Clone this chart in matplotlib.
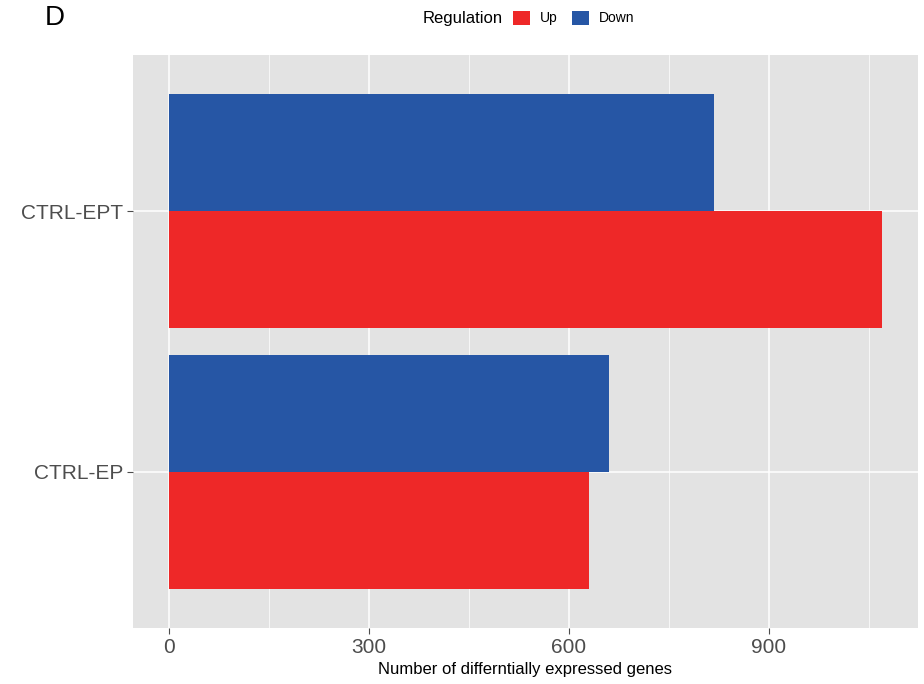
import matplotlib
matplotlib.use("Agg")
import matplotlib.pyplot as plt
import numpy as np
from matplotlib.patches import Patch

# data
comparisons = ["CTRL-EP", "CTRL-EPT"]
up_counts = [630, 1070]
down_counts = [660, 818]
x_ticks = [0, 300, 600, 900]

RED = "#EE2828"
BLUE = "#2656A5"
PANEL = "#E3E3E3"
TXT = "#4D4D4D"

plt.rcParams["font.family"] = ["Liberation Sans", "DejaVu Sans"]

W, H = 924, 684
fig = plt.figure(figsize=(W / 100, H / 100), dpi=100)
ax = fig.add_axes([133 / W, 1 - 628 / H, (918 - 133) / W, (628 - 55) / H])
ax.set_facecolor(PANEL)

y = np.arange(len(comparisons)) + 1
bw = 0.45
ax.barh(y - bw / 2, up_counts, height=bw, color=RED, zorder=3)
ax.barh(y + bw / 2, down_counts, height=bw, color=BLUE, zorder=3)

ax.set_xlim(-53.5, 1123.5)
ax.set_ylim(0.4, 2.6)
ax.set_xticks(x_ticks)
ax.set_xticks([150, 450, 750, 1050], minor=True)
ax.set_yticks(y)
ax.set_yticklabels(comparisons)
ax.grid(True, which="major", color="white", lw=1.1, zorder=0)
ax.grid(True, which="minor", axis="x", color="white", lw=0.5, zorder=0)
ax.set_axisbelow(True)
for s in ax.spines.values():
    s.set_visible(False)
ax.tick_params(axis="both", which="major", length=4, color=TXT, labelcolor=TXT,
               labelsize=15, pad=3)
ax.tick_params(axis="both", which="minor", length=0)
ax.set_xlabel("Number of differntially expressed genes", fontsize=12, labelpad=4)

fig.text(45 / W, 1 - 18 / H, "D", fontsize=20, va="center", ha="left")

# legend at the top, title inline with keys
fig.text(503 / W, 1 - 18 / H, "Regulation", fontsize=12, ha="right", va="center")
handles = [Patch(facecolor=RED, label="Up"), Patch(facecolor=BLUE, label="Down")]
fig.legend(handles=handles, loc="center left",
           bbox_to_anchor=(513 / W, 1 - 18 / H), ncol=2, frameon=False,
           fontsize=10, handlelength=1.2, handleheight=1.2,
           handletextpad=0.7, columnspacing=1.1, borderaxespad=0, borderpad=0)

fig.savefig("out.png", dpi=100)
